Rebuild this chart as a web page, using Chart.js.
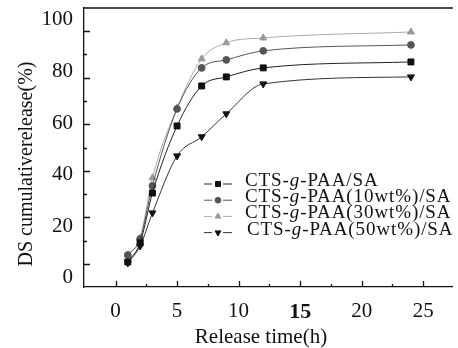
<!DOCTYPE html>
<html>
<head>
<meta charset="utf-8">
<script src="https://cdn.jsdelivr.net/npm/chart.js@4.4.0/dist/chart.umd.min.js"></script>
<style>
  html, body { margin: 0; padding: 0; background: #fff; overflow: hidden; }
  #wrap { width: 458px; height: 348px; position: relative; }
</style>
</head>
<body>
<div id="wrap"><canvas id="release-chart"></canvas></div>
<script>
// release time (h)
var hours = [1, 2, 3, 5, 7, 9, 12, 24];
// cumulative release (%) per formulation
var releasePlain = [6.2, 13.6, 32.9, 58.9, 74.4, 77.9, 81.4, 83.7];
var release10 = [8.9, 15.1, 35.7, 65.5, 81.4, 84.5, 88.0, 90.3];
var release30 = [8.9, 15.5, 38.8, 65.9, 84.9, 91.1, 93.0, 95.3];
var release50 = [5.8, 12.4, 25.2, 47.3, 54.7, 63.6, 75.2, 77.9];
var seriesNames = ['CTS-g-PAA/SA', 'CTS-g-PAA(10wt%)/SA', 'CTS-g-PAA(30wt%)/SA', 'CTS-g-PAA(50wt%)/SA'];
var xTickLabels = [0, 5, 10, 15, 20, 25];
var yTickLabels = [0, 20, 40, 60, 80, 100];

var serif = '"Liberation Serif", "Times New Roman", serif';

function pairs(ys) {
  return hours.map(function (h, i) { return { x: h, y: ys[i] }; });
}

function series(name, values, line, fill, style, rot, r) {
  return {
    label: name,
    data: pairs(values),
    borderColor: line,
    borderWidth: 1,
    backgroundColor: fill,
    pointBackgroundColor: fill,
    pointBorderColor: fill,
    pointStyle: style,
    pointRotation: rot,
    pointRadius: r,
    cubicInterpolationMode: 'monotone',
    fill: false
  };
}

// frame, inward tick marks, legend and axis titles
var decorations = {
  id: 'decorations',
  afterDraw: function (chart) {
    var ctx = chart.ctx, a = chart.chartArea;
    var xs = chart.scales.x, ym = chart.scales.yMarks;
    ctx.save();
    ctx.strokeStyle = '#111';
    ctx.lineWidth = 1.3;
    ctx.beginPath();
    ctx.moveTo(a.left, a.top);
    ctx.lineTo(a.right, a.top);
    for (var v = 0; v <= 25; v += 2.5) {
      var px = Math.round(xs.getPixelForValue(v)) + 0.5;
      ctx.moveTo(px, a.bottom);
      ctx.lineTo(px, a.bottom - (v % 5 === 0 ? 6 : 3));
    }
    for (var w = 0; w <= 100; w += 10) {
      var py = Math.round(ym.getPixelForValue(w)) + 0.5;
      ctx.moveTo(a.left, py);
      ctx.lineTo(a.left + (w % 20 === 0 ? 6 : 3), py);
    }
    ctx.stroke();

    // legend
    var lx = 204, ly = 184, step = 16.2;
    chart.data.datasets.forEach(function (ds, i) {
      var y = ly + i * step;
      ctx.strokeStyle = ds.borderColor;
      ctx.lineWidth = 1;
      ctx.beginPath();
      ctx.moveTo(lx, y); ctx.lineTo(lx + 8, y);
      ctx.moveTo(lx + 19, y); ctx.lineTo(lx + 28, y);
      ctx.stroke();
      ctx.fillStyle = ds.pointBackgroundColor;
      ctx.strokeStyle = ds.pointBorderColor;
      Chart.helpers.drawPoint(ctx, {
        pointStyle: ds.pointStyle, rotation: ds.pointRotation,
        radius: ds.pointRadius * 0.85, borderWidth: 1
      }, lx + 14, y);

      var parts = ds.label.split('-g-');
      var tx = 245 + (i === 3 ? 2 : 0);
      ctx.fillStyle = '#111';
      ctx.textBaseline = 'alphabetic';
      ctx.letterSpacing = '0.9px';
      var segs = [[parts[0] + '-', ''], ['g', 'italic '], ['-' + parts[1], '']];
      segs.forEach(function (s) {
        ctx.font = s[1] + '19px ' + serif;
        ctx.fillText(s[0], tx, y + 2);
        tx += ctx.measureText(s[0]).width;
      });
    });

    // axis titles
    ctx.letterSpacing = '0px';
    ctx.fillStyle = '#111';
    ctx.textAlign = 'center';
    ctx.textBaseline = 'middle';
    ctx.font = '21px ' + serif;
    ctx.fillText('Release time(h)', 261, 337);
    ctx.font = '20px ' + serif;
    ctx.translate(27, 164);
    ctx.rotate(-Math.PI / 2);
    ctx.fillText('DS cumulativerelease(%)', 0, 0);
    ctx.restore();
  }
};

var ctx = document.getElementById('release-chart').getContext('2d');

var chart = new Chart(ctx, {
  type: 'line',
  data: {
    datasets: [
      series(seriesNames[0], releasePlain, '#222', '#111', 'rect', 0, 4.2),
      series(seriesNames[1], release10, '#555', '#555', 'circle', 0, 3.4),
      series(seriesNames[2], release30, '#aaa', '#999', 'triangle', 0, 4),
      series(seriesNames[3], release50, '#333', '#111', 'triangle', 180, 4)
    ]
  },
  options: {
    responsive: true,
    maintainAspectRatio: false,
    animation: false,
    layout: { padding: { top: 8, right: -5, left: 0, bottom: 0 } },
    plugins: {
      legend: { display: false },
      tooltip: { enabled: false }
    },
    scales: {
      x: {
        type: 'linear',
        min: -2.56,
        max: 27.4,
        afterBuildTicks: function (s) { s.ticks = xTickLabels.map(function (v) { return { value: v }; }); },
        afterFit: function (s) { s.height = 61; s.paddingLeft = 0; s.paddingRight = 0; },
        grid: { display: false, drawTicks: false },
        border: { display: true, color: '#111', width: 1.3 },
        ticks: {
          color: '#111',
          padding: 12,
          font: function (c) {
            var bold = c.tick && c.tick.value === 15;
            return { family: serif, size: bold ? 22 : 21, weight: bold ? 'bold' : 'normal' };
          }
        }
      },
      y: {
        type: 'linear',
        min: -3.5,
        max: 104.6,
        afterBuildTicks: function (s) { s.ticks = yTickLabels.map(function (v) { return { value: v }; }); },
        afterFit: function (s) { s.width = 84; s.paddingTop = 0; s.paddingBottom = 0; },
        grid: { display: false, drawTicks: false },
        border: { display: true, color: '#111', width: 1.3 },
        ticks: { color: '#111', padding: 11, font: { family: serif, size: 21 } }
      },
      yMarks: {
        type: 'linear',
        display: false,
        position: 'left',
        min: -10,
        max: 110
      }
    }
  },
  plugins: [decorations]
});
</script>
</body>
</html>
